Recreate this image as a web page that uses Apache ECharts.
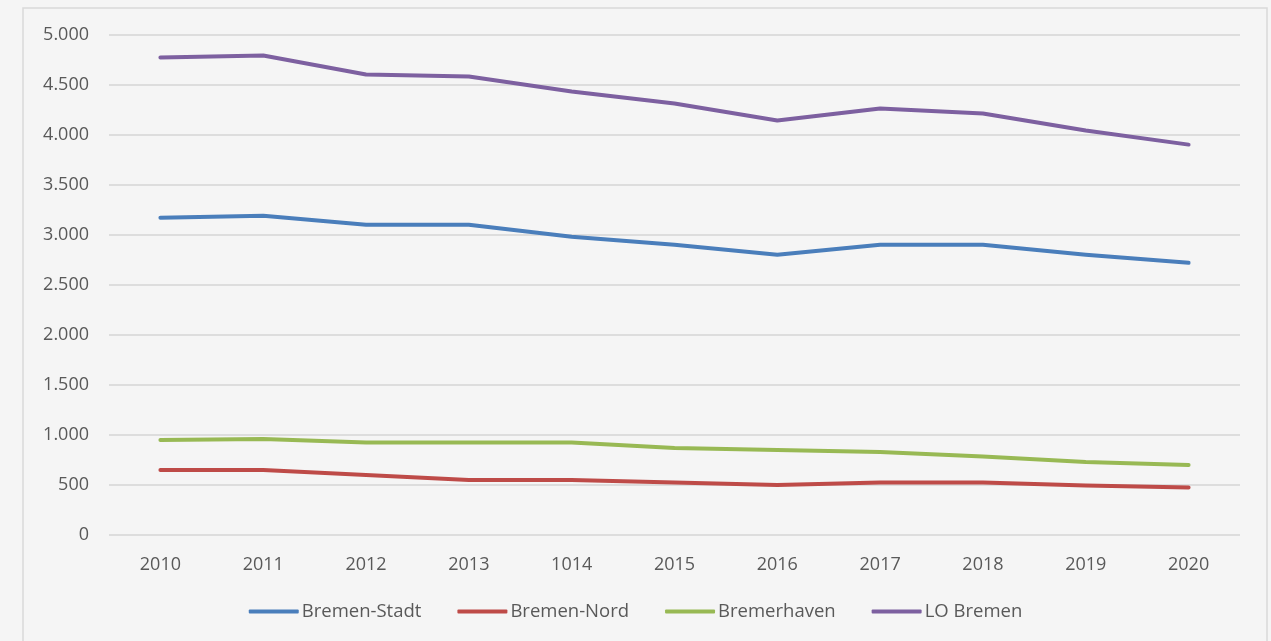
<!DOCTYPE html>
<html>
<head>
<meta charset="utf-8">
<script src="https://cdn.jsdelivr.net/npm/echarts@6/dist/echarts.min.js"></script>
<style>
html,body{margin:0;padding:0;background:#f5f5f5;}
#c{width:1271px;height:641px;}
</style>
</head>
<body>
<div id="c"></div>
<script>
const categories = ['2010','2011','2012','2013','1014','2015','2016','2017','2018','2019','2020'];
const bremenStadt = [3170,3190,3100,3100,2980,2900,2800,2900,2900,2800,2720];
const bremenNord = [650,650,600,550,550,525,500,525,525,495,475];
const bremerhaven = [950,960,925,925,925,870,850,830,785,730,700];
const loBremen = [4770,4790,4600,4580,4430,4310,4140,4260,4210,4040,3900];
const yTicks = [0,500,1000,1500,2000,2500,3000,3500,4000,4500,5000];

function fmt(v){ return String(v).replace(/\B(?=(\d{3})+(?!\d))/g,'.'); }

const chart = echarts.init(document.getElementById('c'));
const font = '"Open Sans", "Noto Sans", sans-serif';
function ser(name, data, color){
  return {name, type:'line', data, symbol:'none', smooth:false,
    lineStyle:{width:4, color, cap:'round', join:'round'}, itemStyle:{color}};
}
chart.setOption({
  backgroundColor:'#f5f5f5',
  animation:false,
  textStyle:{fontFamily:font},
  graphic:[{type:'rect', shape:{x:23, y:8, width:1244, height:650},
    style:{fill:'none', stroke:'#d9d9d9', lineWidth:1.5}, silent:true}],
  grid:{left:109, right:31, top:34.5, bottom:106},
  legend:{top:597, left:'center', itemWidth:50, itemHeight:4, itemGap:36,
    icon:'roundRect',
    textStyle:{color:'#595959', fontSize:18.5, fontFamily:font, padding:[0,0,0,-2]},
    data:['Bremen-Stadt','Bremen-Nord','Bremerhaven','LO Bremen']},
  xAxis:{type:'category', data:categories, boundaryGap:true,
    axisLine:{show:false}, axisTick:{show:false},
    axisLabel:{color:'#595959', fontSize:18, margin:21, fontFamily:font}},
  yAxis:{type:'value', min:yTicks[0], max:yTicks[yTicks.length-1], interval:500,
    axisLine:{show:false}, axisTick:{show:false},
    splitLine:{lineStyle:{color:'#d4d4d4', width:1.5}},
    axisLabel:{color:'#595959', fontSize:18, margin:20, fontFamily:font, formatter:fmt}},
  series:[
    ser('Bremen-Stadt', bremenStadt, '#4a7ebb'),
    ser('Bremen-Nord', bremenNord, '#be4b48'),
    ser('Bremerhaven', bremerhaven, '#98b954'),
    ser('LO Bremen', loBremen, '#7d60a0')
  ]
});
</script>
</body>
</html>
